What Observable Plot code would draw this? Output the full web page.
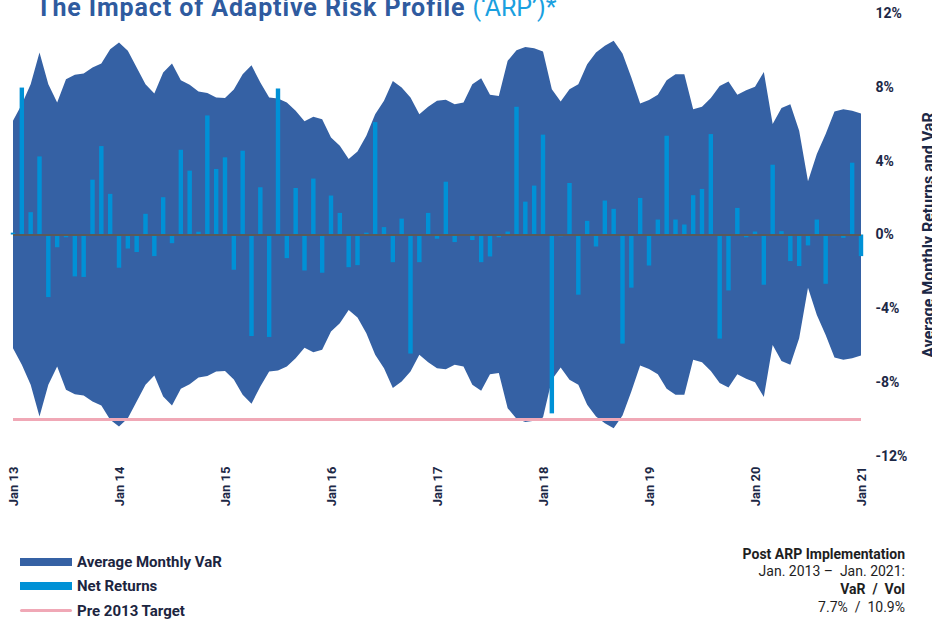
<!DOCTYPE html>
<html>
<head>
<meta charset="utf-8">
<script src="https://cdn.jsdelivr.net/npm/d3@7"></script>
<script src="https://cdn.jsdelivr.net/npm/@observablehq/plot@0.6"></script>
<style>
  body { margin: 0; background: #fff; font-family: Roboto, "Open Sans", sans-serif; }
  #wrap { position: relative; width: 932px; height: 620px; overflow: hidden; }
  #chart { position: absolute; left: 0; top: 0; }
  #title { position: absolute; left: 36px; top: -5px; font-size: 25px; line-height: 25px; font-weight: 700; letter-spacing: 0.9px; color: #2f5b9f; white-space: nowrap; }
  #title span { color: #1aa0e0; font-weight: 400; letter-spacing: 0; }
  .row { position: absolute; left: 20px; height: 24.5px; display: flex; align-items: center; font-size: 15px; font-weight: 700; color: #1c2540; white-space: nowrap; }
  .sw { width: 52px; margin-right: 5px; }
  #note { position: absolute; right: 27px; top: 545.6px; text-align: right; font-size: 14px; line-height: 17.8px; color: #1e1e1e; white-space: pre; }
  #note b { font-weight: 700; }
</style>
</head>
<body>
<div id="wrap">
  <div id="chart"></div>
  <div id="title">The Impact of Adaptive Risk Profile <span>(‘ARP’)*</span></div>
  <div id="legend"></div>
  <div id="note"></div>
</div>
<script>
// Average monthly VaR (%), Jan 2013 .. Jan 2021 (97 months), drawn as ±VaR band
const varValues = [
  6.16, 7.06, 8.14, 9.86, 8.14, 7.15, 8.41, 8.65, 8.72, 9.05, 9.26, 10.04,
  10.40, 9.95, 9.05, 8.14, 7.64, 8.77, 9.26, 8.36, 8.11, 7.75, 7.66, 7.42,
  7.39, 7.85, 8.68, 9.17, 8.23, 7.42, 7.37, 7.15, 6.70, 6.13, 6.38, 6.25,
  5.26, 4.81, 4.09, 4.50, 5.35, 6.52, 7.24, 8.32, 7.96, 7.42, 6.52, 6.92,
  7.24, 7.30, 7.06, 7.15, 8.14, 8.47, 7.57, 7.51, 9.41, 9.98, 10.16, 10.09,
  9.91, 7.87, 7.21, 7.87, 8.14, 9.23, 9.86, 10.22, 10.49, 9.80, 8.50, 7.10,
  7.28, 7.57, 8.36, 8.68, 8.68, 6.79, 6.92, 7.39, 8.05, 8.29, 7.57, 7.82,
  8.00, 8.81, 5.98, 6.85, 7.06, 5.62, 2.88, 4.36, 5.44, 6.67, 6.79, 6.70,
  6.56
];
// Net monthly returns (%)
const netReturns = [
  0.10, 7.96, 1.21, 4.23, -3.39, -0.69, -0.15, -2.27, -2.30, 2.97, 4.79, 2.20,
  -1.80, -0.76, -0.95, 1.12, -1.17, 2.02, -0.47, 4.59, 3.46, 0.15, 6.45, 3.55,
  4.18, -1.91, 4.54, -5.50, 2.56, -5.55, 7.91, -1.28, 2.52, -1.95, 3.03, -2.07,
  2.11, 1.17, -1.77, -1.66, 0.10, 6.09, 0.40, -1.50, 0.86, -6.45, -1.50, 1.17,
  -0.23, 2.86, -0.41, -0.05, -0.30, -1.50, -1.19, -0.15, 0.16, 6.92, 1.78, 2.65,
  5.41, -9.69, -0.10, 2.79, -3.26, 0.74, -0.65, 1.84, 1.39, -5.91, -2.88, 1.98,
  -1.68, 0.81, 5.35, 0.81, 0.54, 2.13, 2.47, 5.44, -5.64, -3.03, 1.44, -0.15,
  0.16, -2.72, 3.78, 0.18, -1.44, -1.71, -0.59, 0.81, -2.67, -0.09, -0.18, 3.89,
  -1.17
];
const preTarget = -10;
const xTickLabels = ["Jan 13", "Jan 14", "Jan 15", "Jan 16", "Jan 17", "Jan 18", "Jan 19", "Jan 20", "Jan 21"];
const yTickValues = [-12, -8, -4, 0, 4, 8, 12];
const yLabel = "Average Monthly Returns and VaR";
const legendItems = ["Average Monthly VaR", "Net Returns", "Pre 2013 Target"];
const noteLines = ["Post ARP Implementation", "Jan. 2013 –  Jan. 2021:", "VaR  /  Vol", "7.7%  /  10.9%"];

const colVaR = "#3561a4", colRet = "#0091d6", colTarget = "#f0a8b6", colText = "#1c2846";

const data = varValues.map((v, i) => ({i, v, r: netReturns[i]}));
const xTicks = xTickLabels.map((_, k) => k * 12);

const chart = Plot.plot({
  width: 932,
  height: 520,
  marginTop: 13,
  marginBottom: 64,
  marginLeft: 13,
  marginRight: 71,
  style: {fontFamily: "Roboto, 'Open Sans', sans-serif", fontSize: "13px", fontWeight: 700, color: colText, background: "transparent", overflow: "visible"},
  x: {domain: [0, varValues.length - 1]},
  y: {domain: [-12, 12]},
  marks: [
    Plot.areaY(data, {x: "i", y1: d => -d.v, y2: "v", fill: colVaR}),
    Plot.rectY(data, {x1: d => d.i - 0.25, x2: d => d.i + 0.25, y1: 0, y2: "r", fill: colRet}),
    Plot.ruleY([0], {stroke: "#5a5a5a", strokeWidth: 2}),
    Plot.ruleY([preTarget], {stroke: colTarget, strokeWidth: 3}),
    Plot.axisX({ticks: xTicks, tickFormat: i => xTickLabels[i / 12], tickRotate: -90, tickSize: 0, tickPadding: 10, label: null, fill: colText}),
    Plot.axisY({anchor: "right", ticks: yTickValues, tickFormat: d => d + "%", tickSize: 0, tickPadding: 14, label: null, fill: colText, fontSize: 14}),
    Plot.text([yLabel], {frameAnchor: "right", dx: 67, rotate: -90, textAnchor: "middle", text: d => d, fontSize: 16, fontWeight: 700, fill: colText})
  ]
});
document.getElementById("chart").appendChild(chart);

// Legend
const legend = document.getElementById("legend");
const swatchStyles = [
  `height:8px;background:${colVaR}`,
  `height:8px;background:${colRet}`,
  `height:3px;background:${colTarget};border-radius:2px`
];
legendItems.forEach((label, k) => {
  const row = document.createElement("div");
  row.className = "row";
  row.style.top = (549.5 + 24.5 * k) + "px";
  row.innerHTML = `<div class="sw" style="${swatchStyles[k]}"></div><span>${label}</span>`;
  legend.appendChild(row);
});

// Note block
document.getElementById("note").innerHTML = noteLines.map((t, k) => (k % 2 === 0 ? `<b>${t}</b>` : t)).join("\n");
</script>
</body>
</html>
